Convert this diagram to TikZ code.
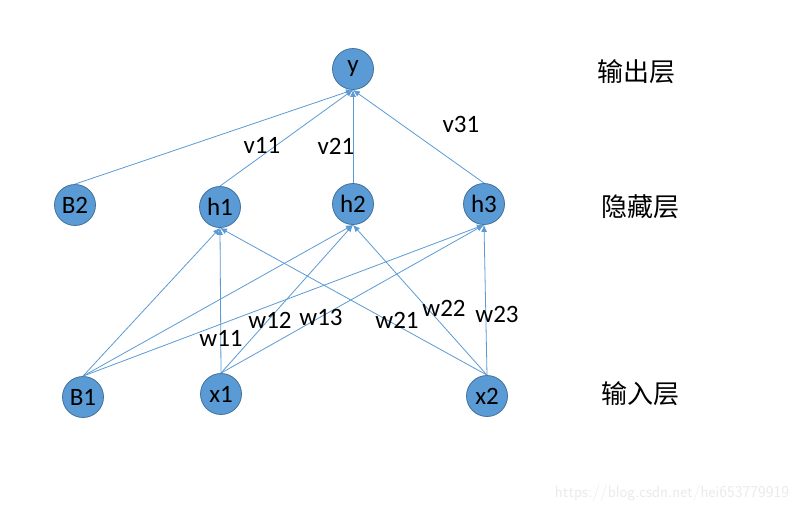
\documentclass[tikz,border=0pt]{standalone}
\usepackage{fontspec}
\setmainfont{Carlito}
\newfontfamily\cjk{Noto Sans CJK SC}
\usetikzlibrary{arrows.meta}
\definecolor{nodefill}{HTML}{5B9BD5}
\definecolor{nodeedge}{HTML}{41719C}
\begin{document}
\begin{tikzpicture}[x=1pt,y=-1pt,
  neuron/.style={circle,fill=nodefill,draw=nodeedge,line width=0.8pt,minimum size=41pt,inner sep=0pt,font=\fontsize{25}{25}\selectfont},
  conn/.style={draw=nodefill,line width=0.8pt,-{Latex[length=7pt,width=6pt]}},
  wlabel/.style={font=\fontsize{25}{25}\selectfont,inner sep=0pt},
  layerlabel/.style={font=\cjk\fontsize{26}{26}\selectfont,inner sep=0pt}]
\useasboundingbox[fill=white] (0,0) rectangle (803,512);
\node[neuron] (y) at (353,69) {y};
\node[neuron] (B2) at (75,205) {B2};
\node[neuron] (h1) at (220,207) {h1};
\node[neuron] (h2) at (353,204) {h2};
\node[neuron] (h3) at (484,204) {h3};
\node[neuron] (B1) at (83,397) {B1};
\node[neuron] (x1) at (221,394) {x1};
\node[neuron] (x2) at (487,396) {x2};
\foreach \s in {B2,h1,h2,h3} \draw[conn] (\s.north) -- (y.south);
\foreach \s in {B1,x1,x2} \foreach \t in {h1,h2,h3} \draw[conn] (\s.north) -- (\t.south);
\node[wlabel] (v11) at (262,145) {v11};
\node[wlabel] (v21) at (336,146) {v21};
\node[wlabel] (v31) at (461,124) {v31};
\node[wlabel] (w11) at (221,338) {w11};
\node[wlabel] (w12) at (270,320) {w12};
\node[wlabel] (w13) at (321,317) {w13};
\node[wlabel] (w21) at (397,320) {w21};
\node[wlabel] (w22) at (444,308) {w22};
\node[wlabel] (w23) at (497,314) {w23};
\node[layerlabel] (out) at (636,72) {输出层};
\node[layerlabel] (hid) at (640,207) {隐藏层};
\node[layerlabel] (inp) at (640,394) {输入层};
\node[font=\sffamily\fontsize{16.5}{16.5}\selectfont,text=black!8,inner sep=0pt] (wm) at (672,493) {https://blog.csdn.net/hei653779919};
\end{tikzpicture}
\end{document}
